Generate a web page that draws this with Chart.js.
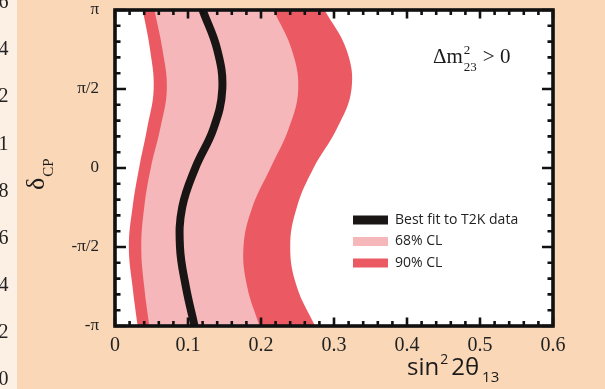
<!DOCTYPE html>
<html>
<head>
<meta charset="utf-8">
<script src="https://cdn.jsdelivr.net/npm/chart.js@4/dist/chart.umd.min.js"></script>
<style>
  html, body { margin: 0; padding: 0; background: #f9d7b7; }
  canvas { display: block; }
</style>
</head>
<body>
<canvas id="c" width="605" height="389"></canvas>
<script>
// delta_CP sample points (radians), from -pi up to +pi
const deltaCP = [-Math.PI, -0.75 * Math.PI, -0.5 * Math.PI, -0.25 * Math.PI, 0,
                 0.25 * Math.PI, 0.5 * Math.PI, 0.75 * Math.PI, Math.PI];

// sin^2(2 theta13) at each delta_CP
const bestFit = [0.109, 0.097, 0.089, 0.092, 0.110, 0.135, 0.147, 0.140, 0.120];
const cl68Low  = [0.047, 0.040, 0.036, 0.040, 0.049, 0.062, 0.071, 0.065, 0.054];
const cl68High = [0.198, 0.181, 0.176, 0.188, 0.213, 0.238, 0.251, 0.242, 0.217];
const cl90Low  = [0.031, 0.024, 0.019, 0.024, 0.033, 0.044, 0.053, 0.048, 0.038];
const cl90High = [0.274, 0.249, 0.240, 0.249, 0.272, 0.304, 0.324, 0.317, 0.287];

// axis ticks
const xTickValues = [0, 0.1, 0.2, 0.3, 0.4, 0.5, 0.6];
const xTickLabels = ['0', '0.1', '0.2', '0.3', '0.4', '0.5', '0.6'];
const yTickValues = [-Math.PI, -Math.PI / 2, 0, Math.PI / 2, Math.PI];
const yTickLabels = ['-\u03c0', '-\u03c0/2', '0', '\u03c0/2', '\u03c0'];

// axis labels of the neighbouring panel, clipped at the left edge
const sidePanelLabels = ['1.6', '1.4', '1.2', '1', '0.8', '0.6', '0.4', '0.2', '0'];

const PINK = '#f6b7ba';
const RED = '#eb5a63';
const BLACK = '#1a1515';
const SERIF = '"Liberation Serif", "DejaVu Serif", serif';
const SANS = '"Open Sans", "Liberation Sans", sans-serif';

const toPoints = vals => vals.map((v, i) => ({ x: v, y: deltaCP[i] }));

const frameAndDecor = {
  id: 'frameAndDecor',
  beforeDraw(chart) {
    const { ctx, chartArea: a, width, height } = chart;
    ctx.save();
    ctx.fillStyle = '#f9d7b7';
    ctx.fillRect(0, 0, width, height);
    ctx.fillStyle = '#fcefe4';
    ctx.fillRect(0, 0, 17, height);
    ctx.fillStyle = '#ffffff';
    ctx.fillRect(a.left, a.top, a.right - a.left, a.bottom - a.top);
    // neighbouring panel tick labels (mostly off-canvas)
    ctx.fillStyle = '#222';
    ctx.font = '20px ' + SERIF;
    ctx.textAlign = 'right';
    ctx.textBaseline = 'middle';
    sidePanelLabels.forEach((t, i) => ctx.fillText(t, 8.5, 3 + i * 47.1));
    ctx.restore();
  },
  afterDraw(chart) {
    const { ctx, chartArea: a, scales } = chart;
    const xs = scales.x, ys = scales.y;
    ctx.save();
    ctx.strokeStyle = '#111';
    // inward tick marks on all four sides
    ctx.lineWidth = 2.6;
    for (let k = 0; k <= 30; k++) {
      const v = k * 0.02;
      const px = xs.getPixelForValue(v);
      const len = (k % 5 === 0) ? 8.5 : 5;
      ctx.beginPath();
      ctx.moveTo(px, a.bottom); ctx.lineTo(px, a.bottom - len);
      ctx.moveTo(px, a.top); ctx.lineTo(px, a.top + len);
      ctx.stroke();
    }
    for (let k = -10; k <= 10; k++) {
      const v = k * Math.PI / 10;
      const py = ys.getPixelForValue(v);
      const len = (k % 5 === 0) ? 11 : 5.5;
      ctx.beginPath();
      ctx.moveTo(a.left, py); ctx.lineTo(a.left + len, py);
      ctx.moveTo(a.right, py); ctx.lineTo(a.right - len, py);
      ctx.stroke();
    }
    // frame
    ctx.lineWidth = 3.6;
    ctx.strokeRect(a.left, a.top, a.right - a.left, a.bottom - a.top);

    // legend inside the plot
    const items = chart.data.datasets.filter(d => d.legendText);
    ctx.font = '14px ' + SANS;
    ctx.textAlign = 'left';
    ctx.textBaseline = 'middle';
    items.forEach((d, i) => {
      const y = a.top + 210 + i * 21.5;
      const x = a.left + 238;
      ctx.fillStyle = d.legendColor;
      ctx.fillRect(x, y - 4.5, 35, 9);
      ctx.fillStyle = '#222';
      ctx.fillText(d.legendText, x + 42, y);
    });

    // mass-ordering annotation
    ctx.fillStyle = '#1a1a1a';
    ctx.textBaseline = 'alphabetic';
    ctx.font = '21px ' + SERIF;
    const bx = a.left + 318, by = a.top + 53;
    ctx.fillText('\u0394m', bx, by);
    const w1 = ctx.measureText('\u0394m').width;
    ctx.font = '13px ' + SERIF;
    ctx.fillText('2', bx + w1 + 1, by - 9);
    ctx.fillText('23', bx + w1 + 1, by + 8);
    const w2 = ctx.measureText('23').width;
    ctx.font = '21px ' + SERIF;
    ctx.fillText('> 0', bx + w1 + w2 + 7, by);

    // x axis title: sin^2 2theta_13
    ctx.font = '24px ' + SANS;
    let tx = xs.getPixelForValue(0.4) + 0;
    const ty = a.bottom + 49;
    ctx.fillText('sin', tx, ty);
    tx += ctx.measureText('sin').width + 1;
    ctx.font = '14px ' + SANS;
    ctx.fillText('2', tx, ty - 11);
    tx += ctx.measureText('2').width + 3;
    ctx.font = '24px ' + SANS;
    ctx.fillText('2\u03b8', tx, ty);
    tx += ctx.measureText('2\u03b8').width + 3;
    ctx.font = '15px ' + SANS;
    ctx.fillText('13', tx, ty + 7);

    // y axis title: delta_CP (rotated)
    ctx.translate(44, a.top + (a.bottom - a.top) / 2 + 22);
    ctx.rotate(-Math.PI / 2);
    ctx.font = '26px ' + SERIF;
    ctx.fillText('\u03b4', 0, 0);
    const wd = ctx.measureText('\u03b4').width;
    ctx.font = '15px ' + SERIF;
    ctx.fillText('CP', wd + 1, 9);
    ctx.restore();
  }
};

new Chart(document.getElementById('c'), {
  type: 'line',
  data: {
    datasets: [
      { data: toPoints(bestFit), borderColor: BLACK, borderWidth: 8, fill: false,
        legendText: 'Best fit to T2K data', legendColor: BLACK, clip: 0 },
      { data: toPoints(cl68Low), borderColor: 'rgba(0,0,0,0)', borderWidth: 0,
        backgroundColor: PINK, fill: '+1', legendText: '68% CL', legendColor: PINK },
      { data: toPoints(cl68High), borderColor: 'rgba(0,0,0,0)', borderWidth: 0, fill: false },
      { data: toPoints(cl90Low), borderColor: 'rgba(0,0,0,0)', borderWidth: 0,
        backgroundColor: RED, fill: '+1', legendText: '90% CL', legendColor: RED },
      { data: toPoints(cl90High), borderColor: 'rgba(0,0,0,0)', borderWidth: 0, fill: false }
    ]
  },
  options: {
    indexAxis: 'y',
    responsive: false,
    animation: false,
    devicePixelRatio: 1,
    elements: { point: { radius: 0, hoverRadius: 0 }, line: { tension: 0.4 } },
    layout: { padding: { top: 10, right: 52, left: 0, bottom: 0 } },
    plugins: { legend: { display: false }, tooltip: { enabled: false } },
    scales: {
      x: {
        type: 'linear', min: 0, max: 0.6,
        grid: { display: false }, border: { display: false },
        afterBuildTicks: s => { s.ticks = xTickValues.map(v => ({ value: v })); },
        afterFit: s => { s.height = 63; s.paddingLeft = 0; s.paddingRight = 0; },
        ticks: {
          callback: (v, i) => xTickLabels[i],
          font: { family: SERIF, size: 20 }, color: '#222', padding: 0, maxRotation: 0
        }
      },
      y: {
        type: 'linear', min: -Math.PI, max: Math.PI,
        grid: { display: false }, border: { display: false },
        afterBuildTicks: s => { s.ticks = yTickValues.map(v => ({ value: v })); },
        afterFit: s => { s.width = 115; s.paddingTop = 0; s.paddingBottom = 0; },
        ticks: {
          callback: (v, i) => yTickLabels[i],
          font: { family: SERIF, size: 17 }, color: '#222', padding: 8
        }
      }
    }
  },
  plugins: [frameAndDecor]
});
</script>
</body>
</html>
